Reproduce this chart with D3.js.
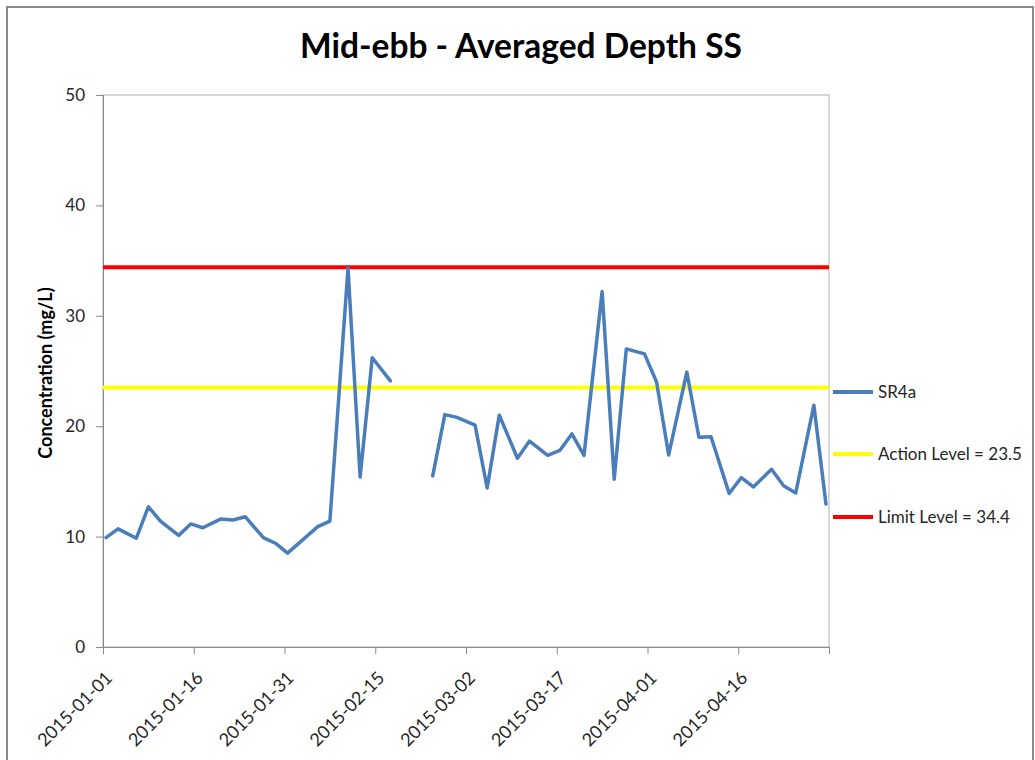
<!DOCTYPE html>
<html>
<head>
<meta charset="utf-8">
<script src="https://cdn.jsdelivr.net/npm/d3@7"></script>
<style>
  html, body { margin: 0; padding: 0; background: #fff; }
  svg { display: block; }
  text { font-family: Lato, "Open Sans", sans-serif; }
</style>
</head>
<body>
<svg id="chart" width="1035" height="760"></svg>
<script>
// Sampling dates and averaged-depth suspended solids (mg/L); null = no sample
const sampleDates = [
  "2015-01-01","2015-01-03","2015-01-06","2015-01-08","2015-01-10","2015-01-13",
  "2015-01-15","2015-01-17","2015-01-20","2015-01-22","2015-01-24","2015-01-27",
  "2015-01-29","2015-01-31","2015-02-05","2015-02-07","2015-02-10","2015-02-12",
  "2015-02-14","2015-02-17","2015-02-20","2015-02-24","2015-02-26","2015-02-28",
  "2015-03-03","2015-03-05","2015-03-07","2015-03-10","2015-03-12","2015-03-15",
  "2015-03-17","2015-03-19","2015-03-21","2015-03-24","2015-03-26","2015-03-28",
  "2015-03-31","2015-04-02","2015-04-04","2015-04-07","2015-04-09","2015-04-11",
  "2015-04-14","2015-04-16","2015-04-18","2015-04-21","2015-04-23","2015-04-25",
  "2015-04-28","2015-04-30"
];
const sr4a = [
  9.9, 10.7, 9.85, 12.7, 11.4, 10.1,
  11.15, 10.8, 11.6, 11.5, 11.8, 9.9,
  9.4, 8.5, 10.9, 11.4, 34.3, 15.4,
  26.2, 24.1, null, 15.5, 21.05, 20.8,
  20.1, 14.4, 21.0, 17.1, 18.65, 17.35,
  17.8, 19.3, 17.35, 32.2, 15.2, 27.0,
  26.55, 24.0, 17.4, 24.9, 19.0, 19.05,
  13.9, 15.35, 14.5, 16.1, 14.6, 13.95,
  21.9, 12.95
];
const actionLevel = 23.5;
const limitLevel = 34.4;
const seriesNames = ["SR4a", "Action Level = 23.5", "Limit Level = 34.4"];
const xTickDates = ["2015-01-01","2015-01-16","2015-01-31","2015-02-15","2015-03-02",
                    "2015-03-17","2015-04-01","2015-04-16","2015-05-01"];
const xTickLabels = ["2015-01-01","2015-01-16","2015-01-31","2015-02-15","2015-03-02",
                     "2015-03-17","2015-04-01","2015-04-16",""];
const yTicks = [0, 10, 20, 30, 40, 50];

const parse = d3.utcParse("%Y-%m-%d");
const svg = d3.select("#chart");

// chart frame
svg.append("rect").attr("x", 7).attr("y", 7).attr("width", 1026).attr("height", 800)
  .attr("fill", "#fff").attr("stroke", "#8a8a8a").attr("stroke-width", 2);

const plot = { left: 103, right: 829, top: 95, bottom: 647 };

const x = d3.scaleUtc()
  .domain([parse("2015-01-01"), parse("2015-05-01")])
  .range([plot.left, plot.right]);
const y = d3.scaleLinear().domain([0, 50]).range([plot.bottom, plot.top]);

// daily samples sit in the middle of their day slot
const halfDay = 12 * 3600 * 1000;
const points = sampleDates.map((d, i) => ({ date: new Date(parse(d).getTime() + halfDay), value: sr4a[i] }));

// plot area border
svg.append("rect")
  .attr("x", plot.left).attr("y", plot.top)
  .attr("width", plot.right - plot.left).attr("height", plot.bottom - plot.top)
  .attr("fill", "none").attr("stroke", "#b0b0b0").attr("stroke-width", 1);

// y axis
const yAxis = d3.axisLeft(y).tickValues(yTicks).tickSize(7).tickPadding(11).tickFormat(d3.format("d"));
const gy = svg.append("g").attr("transform", `translate(${plot.left},0)`).call(yAxis);
gy.select(".domain").attr("stroke", "#8a8a8a");
gy.selectAll(".tick line").attr("stroke", "#8a8a8a");
gy.selectAll(".tick text").attr("fill", "#262626").style("font-size", "17px");

// x axis
const xAxis = d3.axisBottom(x).tickValues(xTickDates.map(parse)).tickSize(7)
  .tickFormat((d, i) => xTickLabels[i]);
const gx = svg.append("g").attr("transform", `translate(0,${plot.bottom})`).call(xAxis);
gx.select(".domain").attr("stroke", "#8a8a8a");
gx.selectAll(".tick line").attr("stroke", "#8a8a8a");
gx.selectAll(".tick text")
  .attr("fill", "#262626").style("font-size", "18px")
  .attr("text-anchor", "end")
  .attr("dy", null).attr("y", 0)
  .attr("transform", "translate(10,32) rotate(-45)");

// y axis title
svg.append("text")
  .attr("transform", `translate(52,${(plot.top + plot.bottom) / 2 + 2}) rotate(-90)`)
  .attr("text-anchor", "middle")
  .style("font-size", "18px").style("font-weight", "bold").attr("fill", "#000")
  .text("Concentration (mg/L)");

// chart title
svg.append("text")
  .attr("x", 521).attr("y", 58)
  .attr("text-anchor", "middle")
  .style("font-size", "33.5px").style("font-weight", "bold").attr("fill", "#000")
  .text("Mid-ebb - Averaged Depth SS");

// threshold lines
const colors = ["#4a7ebb", "#ffff00", "#ff0000"];
svg.append("line")
  .attr("x1", plot.left).attr("x2", plot.right)
  .attr("y1", y(actionLevel)).attr("y2", y(actionLevel))
  .attr("stroke", colors[1]).attr("stroke-width", 4);
svg.append("line")
  .attr("x1", plot.left).attr("x2", plot.right)
  .attr("y1", y(limitLevel)).attr("y2", y(limitLevel))
  .attr("stroke", colors[2]).attr("stroke-width", 4);

// SR4a series
const line = d3.line()
  .defined(d => d.value != null)
  .x(d => x(d.date)).y(d => y(d.value));
svg.append("path").datum(points)
  .attr("d", line)
  .attr("fill", "none").attr("stroke", colors[0])
  .attr("stroke-width", 3.5).attr("stroke-linejoin", "round").attr("stroke-linecap", "round");

// legend
const legendY = [392, 454, 517];
const lg = svg.append("g");
seriesNames.forEach((name, i) => {
  lg.append("line").attr("x1", 833).attr("x2", 873)
    .attr("y1", legendY[i]).attr("y2", legendY[i])
    .attr("stroke", colors[i]).attr("stroke-width", 4);
  lg.append("text").attr("x", 878).attr("y", legendY[i] + 6)
    .style("font-size", "17px").attr("fill", "#262626").text(name);
});
</script>
</body>
</html>
